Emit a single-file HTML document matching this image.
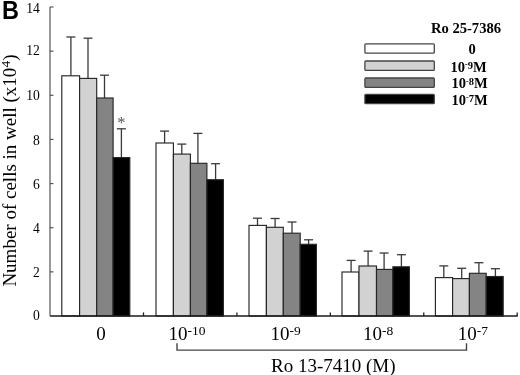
<!DOCTYPE html>
<html><head><meta charset="utf-8"><style>
html,body{margin:0;padding:0;background:#fff;}
body{width:520px;height:375px;overflow:hidden;}
svg{display:block;font-family:"Liberation Serif", serif;will-change:transform;}
</style></head><body>
<svg width="520" height="375" viewBox="0 0 520 375">
<rect width="520" height="375" fill="#fff"/>
<line x1="70.90" y1="37.00" x2="70.90" y2="75.80" stroke="#3a3a3a" stroke-width="1.3"/>
<line x1="66.40" y1="37.00" x2="75.40" y2="37.00" stroke="#3a3a3a" stroke-width="1.3"/>
<rect x="61.80" y="75.80" width="17.80" height="240.20" fill="#ffffff" stroke="#262626" stroke-width="1.15"/>
<line x1="88.00" y1="38.20" x2="88.00" y2="78.40" stroke="#3a3a3a" stroke-width="1.3"/>
<line x1="83.50" y1="38.20" x2="92.50" y2="38.20" stroke="#3a3a3a" stroke-width="1.3"/>
<rect x="79.60" y="78.40" width="17.10" height="237.60" fill="#d2d2d2" stroke="#262626" stroke-width="1.15"/>
<line x1="104.50" y1="75.20" x2="104.50" y2="98.00" stroke="#3a3a3a" stroke-width="1.3"/>
<line x1="100.00" y1="75.20" x2="109.00" y2="75.20" stroke="#3a3a3a" stroke-width="1.3"/>
<rect x="96.70" y="98.00" width="16.40" height="218.00" fill="#848484" stroke="#262626" stroke-width="1.15"/>
<line x1="121.40" y1="128.80" x2="121.40" y2="157.60" stroke="#3a3a3a" stroke-width="1.3"/>
<line x1="116.90" y1="128.80" x2="125.90" y2="128.80" stroke="#3a3a3a" stroke-width="1.3"/>
<rect x="113.10" y="157.60" width="16.70" height="158.40" fill="#000000" stroke="#262626" stroke-width="1.15"/>
<line x1="164.60" y1="131.10" x2="164.60" y2="143.00" stroke="#3a3a3a" stroke-width="1.3"/>
<line x1="160.10" y1="131.10" x2="169.10" y2="131.10" stroke="#3a3a3a" stroke-width="1.3"/>
<rect x="156.00" y="143.00" width="17.40" height="173.00" fill="#ffffff" stroke="#262626" stroke-width="1.15"/>
<line x1="181.80" y1="144.10" x2="181.80" y2="154.10" stroke="#3a3a3a" stroke-width="1.3"/>
<line x1="177.30" y1="144.10" x2="186.30" y2="144.10" stroke="#3a3a3a" stroke-width="1.3"/>
<rect x="173.40" y="154.10" width="17.00" height="161.90" fill="#d2d2d2" stroke="#262626" stroke-width="1.15"/>
<line x1="197.90" y1="133.40" x2="197.90" y2="163.30" stroke="#3a3a3a" stroke-width="1.3"/>
<line x1="193.40" y1="133.40" x2="202.40" y2="133.40" stroke="#3a3a3a" stroke-width="1.3"/>
<rect x="190.40" y="163.30" width="16.50" height="152.70" fill="#848484" stroke="#262626" stroke-width="1.15"/>
<line x1="215.60" y1="163.70" x2="215.60" y2="179.70" stroke="#3a3a3a" stroke-width="1.3"/>
<line x1="211.10" y1="163.70" x2="220.10" y2="163.70" stroke="#3a3a3a" stroke-width="1.3"/>
<rect x="206.90" y="179.70" width="16.50" height="136.30" fill="#000000" stroke="#262626" stroke-width="1.15"/>
<line x1="257.50" y1="218.20" x2="257.50" y2="225.40" stroke="#3a3a3a" stroke-width="1.3"/>
<line x1="253.00" y1="218.20" x2="262.00" y2="218.20" stroke="#3a3a3a" stroke-width="1.3"/>
<rect x="249.00" y="225.40" width="17.40" height="90.60" fill="#ffffff" stroke="#262626" stroke-width="1.15"/>
<line x1="275.10" y1="218.50" x2="275.10" y2="227.30" stroke="#3a3a3a" stroke-width="1.3"/>
<line x1="270.60" y1="218.50" x2="279.60" y2="218.50" stroke="#3a3a3a" stroke-width="1.3"/>
<rect x="266.40" y="227.30" width="16.90" height="88.70" fill="#d2d2d2" stroke="#262626" stroke-width="1.15"/>
<line x1="292.00" y1="222.00" x2="292.00" y2="233.20" stroke="#3a3a3a" stroke-width="1.3"/>
<line x1="287.50" y1="222.00" x2="296.50" y2="222.00" stroke="#3a3a3a" stroke-width="1.3"/>
<rect x="283.30" y="233.20" width="16.90" height="82.80" fill="#848484" stroke="#262626" stroke-width="1.15"/>
<line x1="308.60" y1="239.80" x2="308.60" y2="244.30" stroke="#3a3a3a" stroke-width="1.3"/>
<line x1="304.10" y1="239.80" x2="313.10" y2="239.80" stroke="#3a3a3a" stroke-width="1.3"/>
<rect x="300.20" y="244.30" width="16.20" height="71.70" fill="#000000" stroke="#262626" stroke-width="1.15"/>
<line x1="351.10" y1="260.40" x2="351.10" y2="272.00" stroke="#3a3a3a" stroke-width="1.3"/>
<line x1="346.60" y1="260.40" x2="355.60" y2="260.40" stroke="#3a3a3a" stroke-width="1.3"/>
<rect x="342.00" y="272.00" width="17.00" height="44.00" fill="#ffffff" stroke="#262626" stroke-width="1.15"/>
<line x1="368.10" y1="251.10" x2="368.10" y2="266.00" stroke="#3a3a3a" stroke-width="1.3"/>
<line x1="363.60" y1="251.10" x2="372.60" y2="251.10" stroke="#3a3a3a" stroke-width="1.3"/>
<rect x="359.00" y="266.00" width="17.50" height="50.00" fill="#d2d2d2" stroke="#262626" stroke-width="1.15"/>
<line x1="384.10" y1="253.00" x2="384.10" y2="269.40" stroke="#3a3a3a" stroke-width="1.3"/>
<line x1="379.60" y1="253.00" x2="388.60" y2="253.00" stroke="#3a3a3a" stroke-width="1.3"/>
<rect x="376.50" y="269.40" width="16.40" height="46.60" fill="#848484" stroke="#262626" stroke-width="1.15"/>
<line x1="401.40" y1="254.70" x2="401.40" y2="266.80" stroke="#3a3a3a" stroke-width="1.3"/>
<line x1="396.90" y1="254.70" x2="405.90" y2="254.70" stroke="#3a3a3a" stroke-width="1.3"/>
<rect x="392.90" y="266.80" width="16.50" height="49.20" fill="#000000" stroke="#262626" stroke-width="1.15"/>
<line x1="443.80" y1="265.90" x2="443.80" y2="277.60" stroke="#3a3a3a" stroke-width="1.3"/>
<line x1="439.30" y1="265.90" x2="448.30" y2="265.90" stroke="#3a3a3a" stroke-width="1.3"/>
<rect x="435.40" y="277.60" width="17.20" height="38.40" fill="#ffffff" stroke="#262626" stroke-width="1.15"/>
<line x1="461.70" y1="268.30" x2="461.70" y2="278.60" stroke="#3a3a3a" stroke-width="1.3"/>
<line x1="457.20" y1="268.30" x2="466.20" y2="268.30" stroke="#3a3a3a" stroke-width="1.3"/>
<rect x="452.60" y="278.60" width="16.80" height="37.40" fill="#d2d2d2" stroke="#262626" stroke-width="1.15"/>
<line x1="478.90" y1="262.70" x2="478.90" y2="273.30" stroke="#3a3a3a" stroke-width="1.3"/>
<line x1="474.40" y1="262.70" x2="483.40" y2="262.70" stroke="#3a3a3a" stroke-width="1.3"/>
<rect x="469.40" y="273.30" width="16.80" height="42.70" fill="#848484" stroke="#262626" stroke-width="1.15"/>
<line x1="495.40" y1="268.70" x2="495.40" y2="276.50" stroke="#3a3a3a" stroke-width="1.3"/>
<line x1="490.90" y1="268.70" x2="499.90" y2="268.70" stroke="#3a3a3a" stroke-width="1.3"/>
<rect x="486.20" y="276.50" width="17.00" height="39.50" fill="#000000" stroke="#262626" stroke-width="1.15"/>
<line x1="50.0" y1="7.0" x2="50.0" y2="316.0" stroke="#555" stroke-width="1.2"/>
<line x1="50.0" y1="316.0" x2="517.8" y2="316.0" stroke="#1a1a1a" stroke-width="1.3"/>
<line x1="50.0" y1="7.00" x2="53.5" y2="7.00" stroke="#555" stroke-width="1.2"/>
<text x="39.9" y="13.15" text-anchor="end" font-size="13.6">14</text>
<line x1="50.0" y1="51.14" x2="53.5" y2="51.14" stroke="#555" stroke-width="1.2"/>
<text x="39.9" y="55.20" text-anchor="end" font-size="13.6">12</text>
<line x1="50.0" y1="95.29" x2="53.5" y2="95.29" stroke="#555" stroke-width="1.2"/>
<text x="39.9" y="100.20" text-anchor="end" font-size="13.6">10</text>
<line x1="50.0" y1="139.43" x2="53.5" y2="139.43" stroke="#555" stroke-width="1.2"/>
<text x="39.9" y="145.10" text-anchor="end" font-size="13.6">8</text>
<line x1="50.0" y1="183.57" x2="53.5" y2="183.57" stroke="#555" stroke-width="1.2"/>
<text x="39.9" y="189.00" text-anchor="end" font-size="13.6">6</text>
<line x1="50.0" y1="227.71" x2="53.5" y2="227.71" stroke="#555" stroke-width="1.2"/>
<text x="39.9" y="232.50" text-anchor="end" font-size="13.6">4</text>
<line x1="50.0" y1="271.86" x2="53.5" y2="271.86" stroke="#555" stroke-width="1.2"/>
<text x="39.9" y="277.30" text-anchor="end" font-size="13.6">2</text>
<line x1="50.0" y1="316.00" x2="53.5" y2="316.00" stroke="#555" stroke-width="1.2"/>
<text x="39.9" y="320.00" text-anchor="end" font-size="13.6">0</text>
<line x1="143.50" y1="316.0" x2="143.50" y2="312.4" stroke="#222" stroke-width="1.3"/>
<line x1="236.92" y1="316.0" x2="236.92" y2="312.4" stroke="#222" stroke-width="1.3"/>
<line x1="330.34" y1="316.0" x2="330.34" y2="312.4" stroke="#222" stroke-width="1.3"/>
<line x1="423.76" y1="316.0" x2="423.76" y2="312.4" stroke="#222" stroke-width="1.3"/>
<line x1="517.18" y1="316.0" x2="517.18" y2="312.4" stroke="#222" stroke-width="1.3"/>
<text x="121.3" y="127.6" text-anchor="middle" font-size="16.5" fill="#555">*</text>
<rect x="364.9" y="43.80" width="69.4" height="9.4" rx="1" fill="#ffffff" stroke="#444" stroke-width="1.3"/>
<rect x="364.9" y="61.00" width="69.4" height="9.4" rx="1" fill="#d2d2d2" stroke="#444" stroke-width="1.3"/>
<rect x="364.9" y="78.00" width="69.4" height="9.4" rx="1" fill="#848484" stroke="#444" stroke-width="1.3"/>
<rect x="364.9" y="94.30" width="69.4" height="9.4" rx="1" fill="#000000" stroke="#444" stroke-width="1.3"/>
<text x="466" y="33.2" text-anchor="middle" font-size="14.6" font-weight="bold">Ro 25-7386</text>
<text x="472" y="53.6" text-anchor="middle" font-size="14.5" font-weight="bold">0</text>
<text x="450.6" y="71.7" font-size="14.5" font-weight="bold">10<tspan font-size="8" dy="-4.4">-</tspan><tspan font-size="10.5" dy="1.2">9</tspan><tspan dy="3.2">M</tspan></text>
<text x="451.6" y="88.2" font-size="14.5" font-weight="bold">10<tspan font-size="8" dy="-4.4">-</tspan><tspan font-size="10.5" dy="1.2">8</tspan><tspan dy="3.2">M</tspan></text>
<text x="451.6" y="104.7" font-size="14.5" font-weight="bold">10<tspan font-size="8" dy="-4.4">-</tspan><tspan font-size="10.5" dy="1.2">7</tspan><tspan dy="3.2">M</tspan></text>
<text x="101" y="339.6" text-anchor="middle" font-size="19">0</text>
<text x="168.5" y="339.6" font-size="19">10<tspan font-size="13.5" dy="-4.8">-10</tspan></text>
<text x="270.6" y="339.6" font-size="19">10<tspan font-size="13.5" dy="-4.8">-9</tspan></text>
<text x="363.1" y="339.6" font-size="19">10<tspan font-size="13.5" dy="-4.8">-8</tspan></text>
<text x="457.7" y="339.6" font-size="19">10<tspan font-size="13.5" dy="-4.8">-7</tspan></text>
<path d="M177 343.2 V350.1 H466.5 V343.2" fill="none" stroke="#444" stroke-width="1.4"/>
<text x="271" y="372" font-size="19">Ro 13-7410 (M)</text>
<text transform="translate(16,286.6) rotate(-90)" font-size="19">Number of cells in well (x10<tspan font-size="13.5" dy="-6">4</tspan><tspan dy="6">)</tspan></text>
<text transform="translate(2.0,19.1) scale(0.94,1)" font-family="Liberation Sans, sans-serif" font-weight="bold" font-size="25">B</text>
</svg>
</body></html>
